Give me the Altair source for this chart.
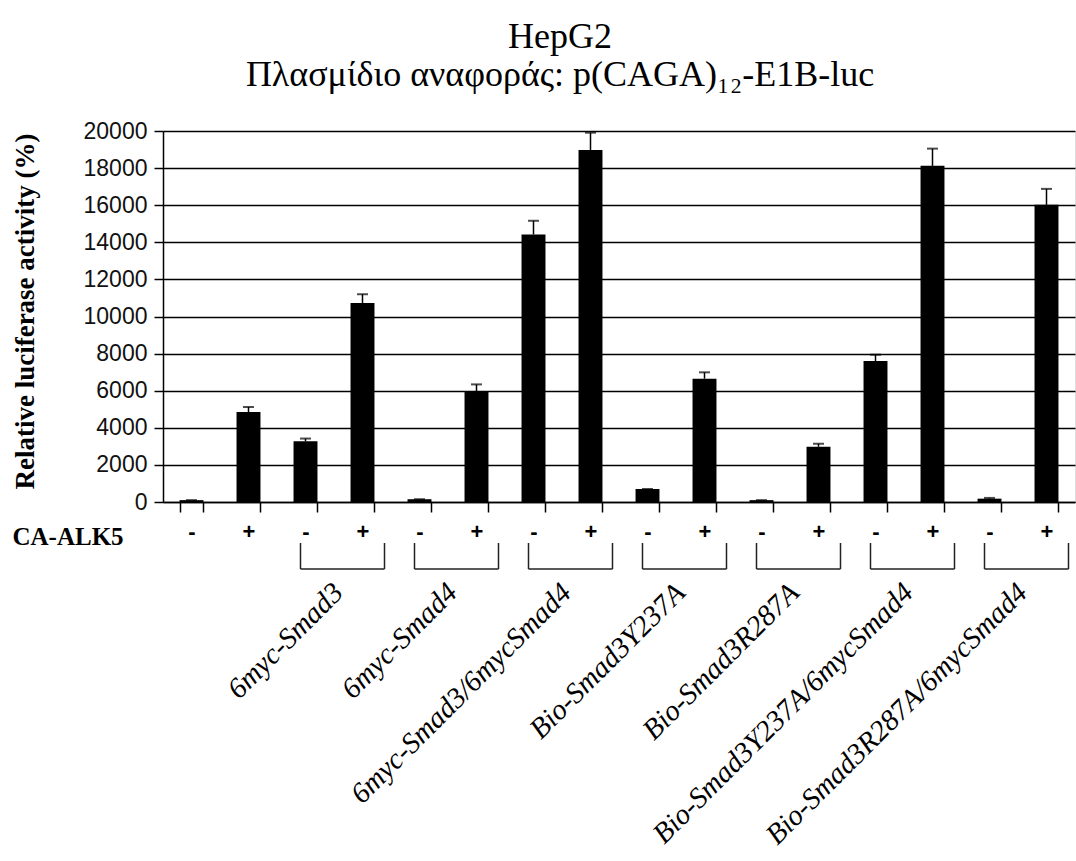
import altair as alt
import pandas as pd

# ---- data ----
categories = ["01 -", "02 +", "03 -", "04 +", "05 -", "06 +", "07 -", "08 +",
              "09 -", "10 +", "11 -", "12 +", "13 -", "14 +", "15 -", "16 +"]
values = [100, 4850, 3270, 10730, 150, 5950, 14420, 18980,
          700, 6650, 100, 2980, 7600, 18120, 180, 16020]
errors = [0, 270, 150, 470, 0, 390, 740, 930,
          0, 340, 0, 160, 340, 930, 40, 860]
groups = ["6myc-Smad3", "6myc-Smad4", "6myc-Smad3/6mycSmad4", "Bio-Smad3Y237A",
          "Bio-Smad3R287A", "Bio-Smad3Y237A/6mycSmad4", "Bio-Smad3R287A/6mycSmad4"]
group_minus = ["03 -", "05 -", "07 -", "09 -", "11 -", "13 -", "15 -"]
group_plus = ["04 +", "06 +", "08 +", "10 +", "12 +", "14 +", "16 +"]
y_ticks = [0, 2000, 4000, 6000, 8000, 10000, 12000, 14000, 16000, 18000, 20000]

df = pd.DataFrame({"cat": categories, "value": values, "err": errors})
df["top"] = df["value"] + df["err"]
gdf = pd.DataFrame({"gname": groups, "minus": group_minus, "plus": group_plus})

BLACK = "#000000"

xscale = alt.Scale(domain=categories, paddingInner=0.58, paddingOuter=0.29)
yscale = alt.Scale(domain=[0, 20000], nice=False)

x_axis = alt.Axis(title="CA-ALK5", labelExpr="substring(datum.label, length(datum.label) - 1)",
                  labelAngle=0, labelFont="Liberation Sans", labelFontWeight="bold",
                  labelFontSize=22, labelColor=BLACK, labelPadding=9,
                  tickBand="extent", tickSize=10, tickWidth=1.5, tickColor=BLACK,
                  domainColor=BLACK, domainWidth=1.5, grid=False,
                  titleFont="Liberation Serif", titleFontWeight="bold", titleFontSize=25,
                  titleColor=BLACK, titleX=-151, titleY=34, titleAlign="left",
                  titleBaseline="middle", titleAngle=0)
y_axis = alt.Axis(title="Relative luciferase activity (%)", values=y_ticks, format="d",
                  grid=True, gridColor=BLACK, gridWidth=1.5, gridOpacity=1,
                  domainColor=BLACK, domainWidth=1.5, tickColor=BLACK, tickSize=9,
                  tickWidth=1.5, labelFont="Liberation Sans", labelFontSize=23,
                  labelColor="#111111", labelPadding=7,
                  titleFont="Liberation Serif", titleFontWeight="bold", titleFontSize=27,
                  titleColor=BLACK, titleX=-138, titleY=180, titleAngle=270,
                  titleAlign="center", titleBaseline="middle")


def xenc(field):
    return alt.X(field, type="nominal", scale=xscale, sort=categories, axis=x_axis)


def yenc(field):
    return alt.Y(field, type="quantitative", scale=yscale, axis=y_axis)


bars = alt.Chart(df).mark_bar(color=BLACK).encode(
    x=xenc("cat"),
    y=yenc("value"),
)

err_rule = alt.Chart(df).mark_rule(color=BLACK, strokeWidth=1.5).encode(
    x=xenc("cat"),
    y=yenc("value"),
    y2="top:Q",
)

caps = alt.Chart(df).mark_tick(color=BLACK, size=11, thickness=2).encode(
    x=xenc("cat"),
    y=yenc("top"),
)

BR_TOP = 412
BR_BOT = 438

bracket_bottom = alt.Chart(gdf).mark_rule(color="#222222", strokeWidth=1.5, xOffset=-5, x2Offset=22).encode(
    x=xenc("minus"),
    x2="plus:N",
    y=alt.value(BR_BOT),
)
bracket_left = alt.Chart(gdf).mark_rule(color="#222222", strokeWidth=1.5, xOffset=-5).encode(
    x=xenc("minus"),
    y=alt.value(BR_TOP), y2=alt.value(BR_BOT),
)
bracket_right = alt.Chart(gdf).mark_rule(color="#222222", strokeWidth=1.5, xOffset=22).encode(
    x=xenc("plus"),
    y=alt.value(BR_TOP), y2=alt.value(BR_BOT),
)

labels = alt.Chart(gdf).mark_text(
    angle=315, align="right", baseline="middle", font="Liberation Serif",
    fontStyle="italic", fontSize=29, color=BLACK, xOffset=-24,
).encode(
    x=xenc("plus"),
    y=alt.value(457),
    text="gname:N",
)

chart = alt.layer(bars, err_rule, caps, bracket_bottom, bracket_left, bracket_right, labels).properties(
    width=912, height=371,
    autosize=alt.AutoSizeParams(type="none"),
    padding={"left": 163, "top": 131, "right": 1, "bottom": 359},
    title=alt.TitleParams(
        text="HepG2",
        subtitle="Πλασμίδιο αναφοράς: p(CAGA)₁₂-E1B-luc",
        font="Liberation Serif", fontSize=36, fontWeight="normal", color=BLACK,
        subtitleFont="Liberation Serif", subtitleFontSize=36, subtitleColor=BLACK,
        subtitlePadding=2, anchor="middle", dx=-59, dy=7, offset=33,
    ),
).configure_view(strokeWidth=0).configure(background="white")

chart.save("out.html", embed_options={"renderer": "svg", "actions": False})
